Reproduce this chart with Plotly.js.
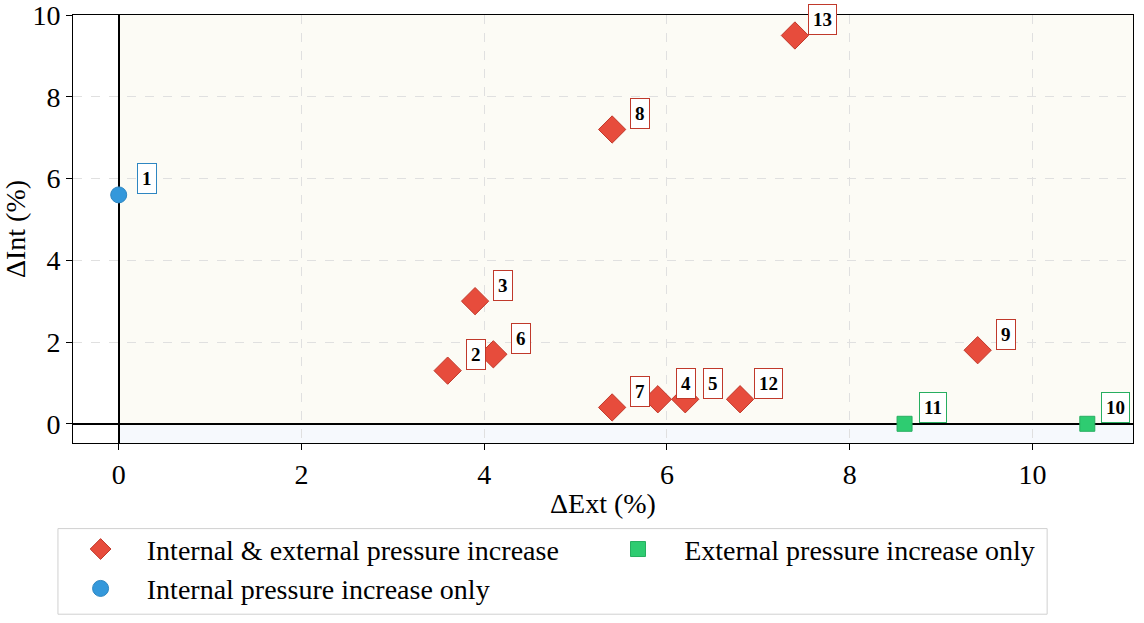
<!DOCTYPE html>
<html>
<head>
<meta charset="utf-8">
<script src="https://cdn.plot.ly/plotly-3.0.1.min.js"></script>
<style>html,body{margin:0;padding:0;background:#fff}#chart{width:1144px;height:623px}</style>
</head>
<body>
<div id="chart"></div>
<script>
// case ids and shifts (%) per group
const bothIds = ['2', '3', '4', '5', '6', '7', '8', '9', '12', '13'];
const bothExt = [3.6, 3.9, 5.9, 6.2, 4.1, 5.4, 5.4, 9.4, 6.8, 7.4];
const bothInt = [1.3, 3.0, 0.6, 0.6, 1.7, 0.4, 7.2, 1.8, 0.6, 9.5];

const intIds = ['1'];
const intExt = [0];
const intInt = [5.6];

const extIds = ['10', '11'];
const extExt = [10.6, 8.6];
const extInt = [0, 0];

const serif = 'Liberation Serif';
const pad = '\u2009\u2009'; // small gap between legend symbol and text

const groups = [
    { name: 'Internal & external pressure increase', ids: bothIds, x: bothExt, y: bothInt,
      symbol: 'diamond', size: 21, color: '#e74c3c', edge: '#c0392b', legend: 'legend' },
    { name: 'Internal pressure increase only', ids: intIds, x: intExt, y: intInt,
      symbol: 'circle', size: 16, color: '#3498db', edge: '#2e86c1', legend: 'legend' },
    { name: 'External pressure increase only', ids: extIds, x: extExt, y: extInt,
      symbol: 'square', size: 15, color: '#2ecc71', edge: '#27ae60', legend: 'legend2' }
];

const traces = groups.map((g, k) => ({
    type: 'scatter', mode: 'markers', name: pad + g.name, x: g.x, y: g.y,
    legend: g.legend, legendgroup: 'g' + k,
    marker: { symbol: g.symbol, size: g.size, color: g.color, line: { color: g.edge, width: 1 } }
}));

// boxed case labels next to each point
const annotations = [];
groups.forEach(g => {
    g.ids.forEach((id, i) => {
        annotations.push({
            x: g.x[i], y: g.y[i], text: '<b>' + id + '</b>', showarrow: false,
            xshift: 28, yshift: 16,
            font: { family: serif, size: 19, color: '#000' },
            bgcolor: '#fff', bordercolor: g.edge, borderwidth: 1, borderpad: 4
        });
    });
});

const axisCommon = {
    showline: true, mirror: true, linecolor: '#000', linewidth: 1,
    ticks: 'outside', ticklen: 6, tickcolor: '#000',
    tickfont: { family: serif, size: 28, color: '#000' },
    ticklabeloverflow: 'allow',
    showgrid: true, gridcolor: '#e0e0e0', griddash: 'dash',
    zeroline: true, zerolinecolor: '#000', zerolinewidth: 1.5
};

const legendCommon = {
    orientation: 'v', xanchor: 'left', yanchor: 'top', y: -0.19,
    bgcolor: 'rgba(0,0,0,0)', borderwidth: 0,
    font: { family: serif, size: 28, color: '#000' },
    itemwidth: 60, tracegroupgap: 0
};

const layout = {
    width: 1144, height: 623,
    margin: { l: 73, r: 11, t: 15, b: 180, autoexpand: false },
    paper_bgcolor: '#fff', plot_bgcolor: '#fff',
    font: { family: serif, size: 28, color: '#000' },
    showlegend: true,
    xaxis: Object.assign({}, axisCommon, {
        range: [-0.5, 11.1], dtick: 2,
        title: { text: 'ΔExt (%)', font: { family: serif, size: 28 }, standoff: 4 }
    }),
    yaxis: Object.assign({}, axisCommon, {
        range: [-0.47, 10.001], dtick: 2,
        title: { text: 'ΔInt (%)', font: { family: serif, size: 28 }, standoff: 6 }
    }),
    shapes: [
        { type: 'rect', xref: 'x', yref: 'y', x0: 0, x1: 11.1, y0: 0, y1: 10.001,
          fillcolor: '#fcfbf5', line: { width: 0 }, layer: 'below' },
        { type: 'rect', xref: 'x', yref: 'y', x0: 0, x1: 11.1, y0: -0.47, y1: 0,
          fillcolor: '#f6f9fd', line: { width: 0 }, layer: 'below' },
        // legend frame
        { type: 'rect', xref: 'paper', yref: 'paper', x0: -0.0142, x1: 0.919, y0: -0.40, y1: -0.20,
          fillcolor: '#fff', line: { color: '#d0d0d0', width: 1 }, layer: 'below' }
    ],
    legend: Object.assign({}, legendCommon, { x: -0.007 }),
    legend2: Object.assign({}, legendCommon, { x: 0.5 }),
    annotations: annotations
};

Plotly.newPlot('chart', traces, layout, { displayModeBar: false });
</script>
</body>
</html>
